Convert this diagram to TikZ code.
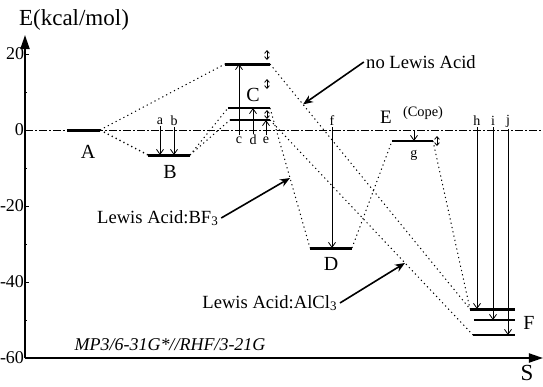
\documentclass[tikz,border=0pt]{standalone}
\usepackage{fontspec}
\setmainfont{Liberation Serif}
\usetikzlibrary{arrows.meta, calc}

\begin{document}
\begin{tikzpicture}[x=0.5pt, y=-0.5pt,
        level/.style={line width=1.5pt},
        route/.style={line width=0.5pt, dash pattern=on 0.6pt off 1.6pt},
        trans/.style={line width=0.4pt, -{Straight Barb[length=2.5pt,width=3.5pt]}},
        note/.style={line width=0.8pt, -{Stealth[length=5pt,width=4pt]}},
        axis/.style={line width=1pt, -{Triangle[length=7pt,width=4.5pt]}},
        gap/.style={line width=0.4pt, {Straight Barb[length=1.4pt,width=2.4pt]}-{Straight Barb[length=1.4pt,width=2.4pt]}},
        tag/.style={font=\fontsize{7}{8}\selectfont, inner sep=0.5pt},
        state/.style={font=\fontsize{10}{12}\selectfont, inner sep=1pt},
        label/.style={font=\fontsize{9.3}{11}\selectfont, inner sep=1pt}]

        \useasboundingbox (0,0) rectangle (543,387);

        % axes
        \coordinate (O) at (25,358);
        \coordinate (ytop) at (25,35);
        \coordinate (xend) at (543,358);
        \draw[axis] (O) -- (ytop);
        \draw[axis] (O) -- (xend);
        \draw[line width=0.4pt, dash pattern=on 4pt off 1.2pt on 0.6pt off 1.2pt] (25,130) -- (543,130);
        \foreach \y/\lab in {54/20, 130/0, 206/-20, 282/-40, 358/-60} {
          \draw[line width=0.5pt] (25,\y) -- (29,\y);
          \node[anchor=east, font=\fontsize{9}{11}\selectfont, inner sep=0.3pt] (t\y) at (25,\y) {\lab};
        }
        \foreach \y in {92, 168, 244, 320}
          \draw[line width=0.4pt] (25,\y) -- (27,\y);
        \node[font=\fontsize{11.5}{13}\selectfont] (ylab) at (74,20) {E(kcal/mol)};
        \node[font=\fontsize{11.5}{13}\selectfont, inner sep=0.5pt] (xlab) at (527,373) {S};

        % energy levels
        \coordinate (Al) at (67,130);   \coordinate (Ar) at (100,130);
        \coordinate (Bl) at (148,155);  \coordinate (Br) at (190,155);
        \coordinate (Ctl) at (225,64);  \coordinate (Ctr) at (270,64);
        \coordinate (Cml) at (228,108); \coordinate (Cmr) at (270,108);
        \coordinate (Cbl) at (230,120); \coordinate (Cbr) at (270,120);
        \coordinate (Dl) at (310,248);  \coordinate (Dr) at (352,248);
        \coordinate (Gl) at (392,141);  \coordinate (Gr) at (433,141);
        \coordinate (Ftl) at (470,309); \coordinate (Ftr) at (515,309);
        \coordinate (Fml) at (474,320); \coordinate (Fmr) at (515,320);
        \coordinate (Fbl) at (473,335); \coordinate (Fbr) at (515,335);

        \draw[level] (Al) -- (Ar);
        \draw[level] (Bl) -- (Br);
        \draw[level] (Ctl) -- (Ctr);
        \draw[level, line width=1.2pt] (Cml) -- (Cmr);
        \draw[level, line width=0.7pt] (Cbl) -- (Cbr);
        \draw[level] (Dl) -- (Dr);
        \draw[level, line width=1.2pt] (Gl) -- (Gr);
        \draw[level] (Ftl) -- (Ftr);
        \draw[level, line width=1pt] (Fml) -- (Fmr);
        \draw[level, line width=0.6pt] (Fbl) -- (Fbr);

        \node[state] (A) at (88,152) {A};
        \node[state] (B) at (170,172) {B};
        \node[state] (C) at (253,95) {C};
        \node[state] (D) at (331,264) {D};
        \node[state, font=\fontsize{9.5}{11}\selectfont] (E) at (386,117) {E};
        \node[font=\fontsize{7.2}{8}\selectfont, inner sep=0.5pt] (cope) at (423,113) {(Cope)};
        \node[state] (F) at (529,323) {F};

        % reaction paths
        \draw[route] (Ar) -- (Ctl);
        \draw[route, line width=0.7pt] (Ar) -- (Bl);
        \draw[route] (Br) -- (Cml);
        \draw[route] (Br) -- (Cbl);
        \draw[route] (Ctr) -- (Ftl);
        \draw[route] (Cmr) -- (Dl);
        \draw[route] (Cbr) -- (Fbl);
        \draw[route] (Dr) -- (Gl);
        \draw[route] (Gr) -- (Ftl);

        % transitions
        \node[tag] (a) at (160,121) {a};
        \node[tag] (b) at (174,121) {b};
        \node[tag] (c) at (239,140) {c};
        \node[tag] (d) at (253,140) {d};
        \node[tag] (e) at (266,140) {e};
        \node[tag] (f) at (332,121) {f};
        \node[tag] (g) at (414,155) {g};
        \node[tag] (h) at (477,121) {h};
        \node[tag] (i) at (493,121) {i};
        \node[tag] (j) at (508,121) {j};
        \coordinate (g0) at (414,130);

        \draw[trans] (a.south) -- (a.south |- Bl);
        \draw[trans] (b.south) -- (b.south |- Bl);
        \draw[trans] (c.north) -- (c.north |- Ctl);
        \draw[trans] (d.north) -- (d.north |- Cml);
        \draw[trans] (e.north) -- (e.north |- Cbl);
        \draw[trans] (f.south) -- (f.south |- Dl);
        \draw[trans] (g0) -- (g0 |- Gl);
        \draw[trans] (h.south) -- (h.south |- Ftl);
        \draw[trans] (i.south) -- (i.south |- Fml);
        \draw[trans] (j.south) -- (j.south |- Fbl);

        \draw[gap] (267,50) -- (267,60);
        \draw[gap] (267,79) -- (267,89);
        \draw[gap] (267,110) -- (267,119);
        \draw[gap] (437,136) -- (437,146);

        % annotations
        \node[label] (noLA) at (421,62) {no Lewis Acid};
        \node[label] (bf) at (158,218) {Lewis Acid:BF\textsubscript{3}};
        \node[label] (alcl) at (270,303) {Lewis Acid:AlCl\textsubscript{3}};
        \node[label, font=\itshape\fontsize{9}{11}\selectfont] (method) at (170,345) {MP3/6-31G*//RHF/3-21G};

        \draw[note] (noLA.west) -- ($(Ctr)!0.165!(Ftl)$);
        \draw[note] (bf.east) -- ($(Cmr)!0.5!(Dl)$);
        \draw[note] (alcl.east) -- ($(Cbr)!0.665!(Fbl)$);
      \end{tikzpicture}
\end{document}
